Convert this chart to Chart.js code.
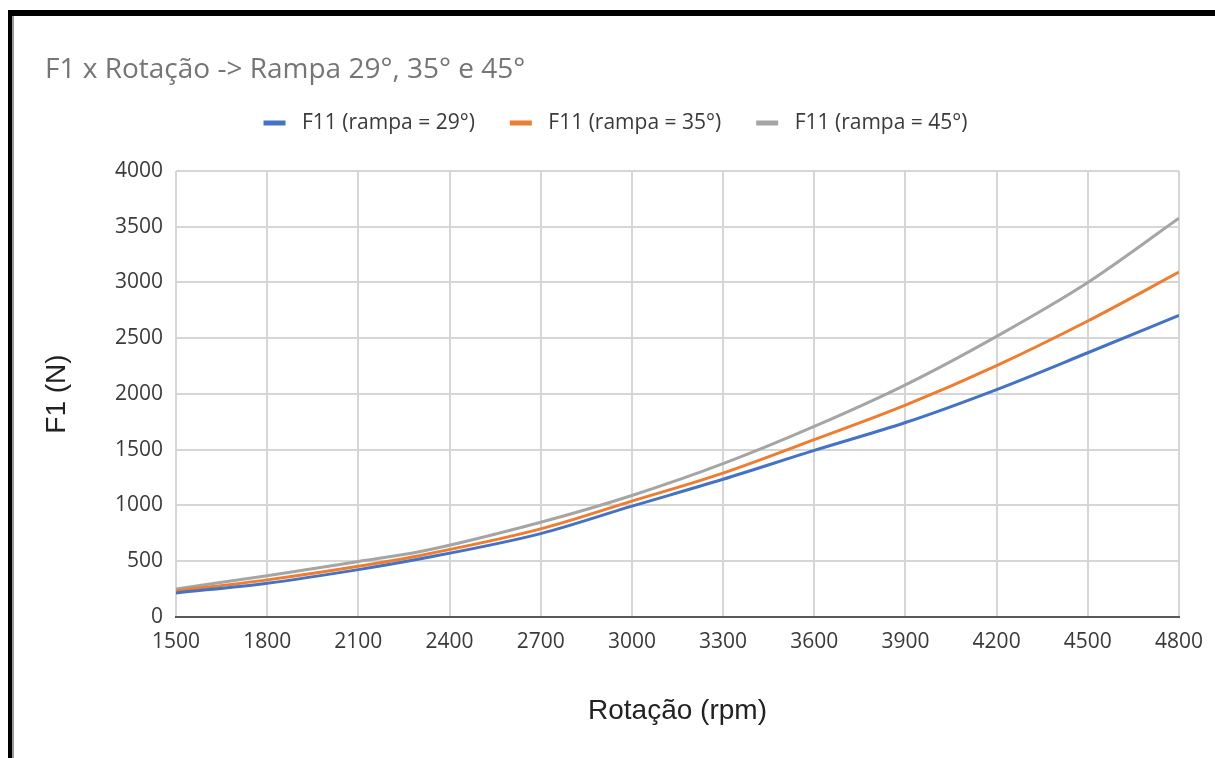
<!DOCTYPE html>
<html>
<head>
<meta charset="utf-8">
<script src="https://cdn.jsdelivr.net/npm/chart.js@4"></script>
<style>
  html, body { margin: 0; padding: 0; background: #fff; }
  #wrap { position: relative; width: 1215px; height: 758px; }
  #frame {
    position: absolute; left: 8px; top: 10px; right: 0; bottom: 0;
    border-top: 6px solid #000; border-left: 4px solid #000;
    box-shadow: inset 2px 0 0 #9a9a9a;
    pointer-events: none;
  }
</style>
</head>
<body>
<div id="wrap">
  <canvas id="myChart" width="1215" height="758"></canvas>
  <div id="frame"></div>
</div>
<script>
// rotação (rpm) e força F1 (N) para cada rampa
var rotacao = [1500, 1800, 2100, 2300, 2700, 3000, 3300, 3600, 3900, 4200, 4500, 4800];
var rampa29 = [216, 303, 425, 520, 748, 994, 1235, 1494, 1744, 2040, 2370, 2706];
var rampa35 = [234, 333, 455, 550, 790, 1039, 1290, 1590, 1900, 2255, 2655, 3093];
var rampa45 = [252, 370, 498, 585, 850, 1090, 1375, 1709, 2082, 2517, 3000, 3576];

var xTicks = [1500, 1800, 2100, 2400, 2700, 3000, 3300, 3600, 3900, 4200, 4500, 4800];
var yTicks = [0, 500, 1000, 1500, 2000, 2500, 3000, 3500, 4000];

function pontos(valores) {
    return rotacao.map((r, i) => ({ x: r, y: valores[i] }));
}

Chart.defaults.font.family = "'Open Sans', sans-serif";

// espaço extra entre a legenda e o gráfico
const legendMargin = {
    id: 'legendMargin',
    beforeInit(chart) {
        const fitValue = chart.legend.fit;
        chart.legend.fit = function fit() {
            fitValue.bind(chart.legend)();
            this.height += 27.5;
        };
    }
};

var ctx = document.getElementById('myChart').getContext('2d');
var myChartInstance = new Chart(ctx, {
    type: 'line',
    data: {
        datasets: [
            { label: "F11 (rampa = 29°)", data: pontos(rampa29), borderColor: '#4472C4', backgroundColor: '#4472C4' },
            { label: "F11 (rampa = 35°)", data: pontos(rampa35), borderColor: '#ED7D31', backgroundColor: '#ED7D31' },
            { label: "F11 (rampa = 45°)", data: pontos(rampa45), borderColor: '#A5A5A5', backgroundColor: '#A5A5A5' }
        ]
    },
    options: {
        responsive: false,
        animation: false,
        layout: { padding: { left: 45, right: 35, top: 0, bottom: 0 } },
        elements: {
            point: { radius: 0 },
            line: { borderWidth: 3, cubicInterpolationMode: 'monotone' }
        },
        scales: {
            x: {
                type: 'linear',
                min: 1500,
                max: 4800,
                afterBuildTicks: s => { s.ticks = xTicks.map(v => ({ value: v })); },
                afterFit: s => { s.height = 141; },
                ticks: { color: '#3a3a3a', font: { size: 21 }, padding: 12, maxRotation: 0, autoSkip: false, callback: v => String(v) },
                grid: { color: '#d6d6d6', lineWidth: 2, drawTicks: false },
                border: { color: '#5a5a5a', width: 2 },
                title: {
                    display: true,
                    text: 'Rotação (rpm)',
                    color: '#222',
                    font: { family: "'Liberation Sans', Arial, sans-serif", size: 28, lineHeight: 1.2 },
                    padding: { top: 0, bottom: 30.2 }
                }
            },
            y: {
                min: 0,
                max: 4000,
                afterBuildTicks: s => { s.ticks = yTicks.map(v => ({ value: v })); },
                afterFit: s => { s.width = 131; },
                ticks: { color: '#3a3a3a', font: { size: 21 }, padding: 13, callback: v => String(v) },
                grid: { color: '#d6d6d6', lineWidth: 2, drawTicks: false },
                border: { display: false },
                title: {
                    display: true,
                    text: 'F1 (N)',
                    color: '#222',
                    font: { family: "'Liberation Sans', Arial, sans-serif", size: 28, lineHeight: 0.85 },
                    padding: { top: 0, bottom: 0 }
                }
            }
        },
        plugins: {
            title: {
                display: true,
                text: 'F1 x Rotação -> Rampa 29°, 35° e 45°',
                align: 'start',
                color: '#757575',
                font: { size: 28, weight: 'normal', lineHeight: 0.964 },
                padding: { top: 56.5, bottom: 0 }
            },
            legend: {
                labels: {
                    color: '#3a3a3a',
                    font: { size: 21 },
                    // caixa larga com contorno branco: sobra um traço 22x5 e mais folga até o texto
                    boxWidth: 34,
                    boxHeight: 17,
                    padding: 29,
                    generateLabels: chart => Chart.defaults.plugins.legend.labels.generateLabels(chart)
                        .map(l => Object.assign(l, { lineWidth: 12, strokeStyle: '#fff' }))
                }
            },
            tooltip: { enabled: false }
        }
    },
    plugins: [legendMargin]
});
</script>
</body>
</html>
